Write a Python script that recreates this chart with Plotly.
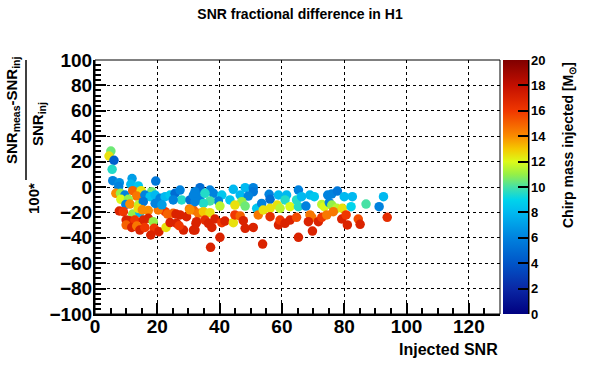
import plotly.graph_objects as go

# ---- data ----
injected_snr = [
    5.1, 4.5, 6.1, 5.5, 5.7, 7.8, 11.9, 19.5, 7.6, 11.5, 13.9, 6.7, 8.2, 9.6, 12.1, 14.8, 13.4, 8.3, 10.7, 9.9,
    11.2, 14.0, 18.2, 16.0, 17.7, 19.3, 15.5, 20.9, 22.5, 24.1, 25.7, 27.3, 27.8, 25.1, 30.5, 32.6, 33.7, 7.8, 9.1, 12.1,
    14.4, 13.9, 15.2, 17.1, 10.0, 11.0, 12.8, 15.5, 17.1, 10.0, 11.8, 13.4, 14.4, 16.0, 18.7, 19.0, 17.9, 20.5, 22.8, 22.5,
    23.3, 25.1, 26.0, 27.3, 29.4, 30.3, 24.1, 26.2, 28.4, 27.0, 31.6, 32.4, 31.6, 20.3, 19.3, 21.5,
    33.7, 32.1, 36.9, 38.0, 35.3, 31.6, 40.7, 44.4, 48.2, 50.8, 50.8, 46.6, 49.2, 43.3, 39.6, 36.9, 34.8, 32.1, 47.1, 44.9,
    48.2, 40.1, 51.9, 53.5, 55.9, 56.2, 58.9, 61.5, 61.0, 58.5, 56.2, 59.4, 62.6, 65.3, 64.7, 65.3, 30.5, 33.2, 34.8, 36.9,
    32.6, 32.1, 35.3, 36.4, 37.5, 38.5, 40.7, 41.7, 44.4, 44.9, 46.6, 47.6, 48.2, 50.8, 52.4, 54.0, 56.2, 58.9, 59.4, 61.0,
    62.6, 64.7, 40.1, 37.1, 53.8, 65.3,
    66.3, 69.0, 70.4, 74.7, 76.0, 77.8, 80.0, 82.6, 92.6, 67.7, 72.8, 73.6, 75.2, 76.0, 77.6, 79.4, 82.2, 87.0, 91.2, 69.0,
    69.6, 68.5, 71.7, 72.8, 74.4, 76.5, 79.2, 80.6, 81.0, 84.5, 85.1, 93.8, 69.8,
]
snr_frac_diff = [
    28.3, 24.4, 21.0, 13.9, 5.0, 3.4, 6.6, 4.7, 0.3, 2.1, 0.8, -5.0, -5.0, -6.3, -2.9, -2.9, -7.1, -9.7, -9.7, -13.7,
    -13.4, -14.0, -3.7, -6.3, -7.6, -6.3, -11.6, -8.9, -7.6, -6.3, -5.0, -2.4, -10.2, -10.2, -10.2, -5.0, -10.2, -18.9, -19.4, -21.3,
    -20.2, -16.8, -18.0, -18.6, -26.0, -26.5, -26.0, -26.0, -24.7, -30.0, -31.8, -30.7, -33.9, -31.8, -27.3, -32.5, -37.8, -35.2, -31.8, -19.4,
    -21.3, -20.7, -21.3, -22.0, -23.4, -17.3, -28.0, -28.6, -33.9, -30.5, -33.9, -28.6, -18.1, -18.1, -13.0, -14.0,
    -0.5, -3.7, -2.4, -5.0, -5.0, -6.3, -6.3, -1.8, -0.5, -0.5, -3.7, -6.3, -7.1, -10.2, -11.0, -11.0, -12.9, -11.6, -11.6, -14.2,
    -15.0, -15.0, -16.8, -12.9, -5.8, -9.7, -6.3, -6.3, -10.2, -14.2, -16.8, -16.8, -15.5, -15.5, -10.2, -2.4, -18.0, -20.7, -19.4, -20.2,
    -27.3, -33.9, -26.0, -28.6, -31.8, -25.2, -28.1, -26.8, -28.1, -22.0, -22.8, -26.5, -32.5, -31.8, -22.0, -18.1, -23.4, -29.9, -26.0, -28.6,
    -26.0, -23.9, -39.6, -47.5, -44.9, -39.6,
    -7.6, -6.3, -7.6, -6.3, -5.5, -3.2, -7.6, -7.6, -7.6, -15.0, -13.7, -15.5, -12.3, -14.2, -16.8, -16.8, -15.5, -13.4, -15.5, -22.0,
    -23.9, -27.3, -27.3, -23.9, -22.0, -19.4, -25.2, -22.0, -29.9, -25.2, -29.4, -23.9, -34.7,
]
chirp_mass = [
    10.5, 12.5, 4.5, 9.5, 6, 6.5, 7, 5.5, 6, 8, 8.5, 14, 11, 6, 15, 12.5, 14.5, 12, 11, 6,
    14, 11.5, 10.5, 6, 8.5, 8, 5.5, 6, 8, 8.5, 5, 6, 9.5, 6, 5, 6, 6, 17, 16, 11,
    8, 12.5, 14, 14, 17, 17, 16, 17, 17, 15, 17, 14.5, 17, 16, 11, 16, 17, 17, 12.5, 16,
    15, 15, 17, 17, 17, 14.5, 17, 17, 17, 16, 17, 17, 15, 14.5, 6, 7,
    5, 6, 6, 6, 9.5, 6, 8.5, 8, 8, 6, 5.5, 8, 6, 8.5, 6, 10, 9.5, 6, 11, 12.5,
    10.5, 11.5, 8.5, 6, 6, 5, 8, 8, 9.5, 12.5, 12.5, 11.5, 12, 9.5, 9.5, 6, 14, 14.5, 13, 12.5,
    17, 17, 16.5, 17, 17, 17, 16, 17, 12.5, 16, 15, 17, 17, 17, 14.5, 12.5, 16.5, 17, 16, 17,
    17, 15.5, 17, 17, 17, 17,
    8, 8, 8.5, 6, 6, 5.5, 8, 8, 8, 6, 11.5, 12, 6, 11, 11.5, 12.5, 9, 10, 6, 14.5,
    14.5, 17, 17, 16, 14.5, 14.5, 17, 16, 17, 15.5, 17, 16.5, 17,
]
x_ticks = [0, 20, 40, 60, 80, 100, 120]
y_ticks = [-100, -80, -60, -40, -20, 0, 20, 40, 60, 80, 100]
cbar_ticks = [0, 2, 4, 6, 8, 10, 12, 14, 16, 18, 20]

# ---- geometry helpers (pixel -> paper) ----
L, R, T, B = 95, 500, 60, 314
W, H = 596, 374
def px(x): return (x - L) / (R - L)
def py(y): return (B - y) / (B - T)

FONT = "Liberation Sans, Arial, sans-serif"
colorscale = [
    [0.00, "rgb(0,0,128)"], [0.10, "rgb(10,40,165)"], [0.20, "rgb(0,85,200)"],
    [0.30, "rgb(0,130,222)"], [0.40, "rgb(0,185,240)"], [0.45, "rgb(0,212,235)"],
    [0.50, "rgb(70,225,165)"], [0.55, "rgb(150,240,70)"], [0.60, "rgb(220,250,25)"],
    [0.65, "rgb(245,200,0)"], [0.70, "rgb(250,140,0)"], [0.80, "rgb(240,55,0)"],
    [0.90, "rgb(195,15,0)"], [1.00, "rgb(128,0,0)"],
]

fig = go.Figure(go.Scatter(
    x=injected_snr, y=snr_frac_diff, mode="markers",
    marker=dict(size=9.5, color=chirp_mass, colorscale=colorscale, cmin=0, cmax=20,
                line=dict(width=0),
                colorbar=dict(x=px(503), xanchor="left", xpad=0, ypad=0,
                              y=0.5, yanchor="middle", len=1, lenmode="fraction",
                              thickness=25, outlinewidth=0,
                              tickvals=cbar_ticks, ticks="inside", ticklen=10,
                              tickwidth=2, tickcolor="black",
                              tickfont=dict(family=FONT, size=13, color="black", weight="bold"))),
    showlegend=False,
))

axis_common = dict(
    ticks="inside", ticklen=11, tickwidth=2, tickcolor="black",
    showline=True, linewidth=2, linecolor="black", mirror=False,
    showgrid=True, gridcolor="black", gridwidth=1, griddash="dot",
    zeroline=False,
    tickfont=dict(family=FONT, size=19, color="black", weight="bold"),
)
fig.update_xaxes(range=[0, 130], tickvals=x_ticks, ticklabelstandoff=-6,
                 minor=dict(dtick=5, tick0=0, ticks="inside", ticklen=6, tickwidth=2,
                            tickcolor="black", showgrid=False),
                 **axis_common)
fig.update_yaxes(range=[-100, 100], tickvals=y_ticks, ticklabelstandoff=-3,
                 minor=dict(dtick=4, tick0=0, ticks="inside", ticklen=6, tickwidth=2,
                            tickcolor="black", showgrid=False),
                 **axis_common)

shapes = [
    dict(type="rect", xref="paper", yref="paper", x0=0, x1=1, y0=0, y1=1,
         line=dict(color="black", width=1)),
    dict(type="line", xref="paper", yref="paper", x0=px(528.5), x1=px(528.5),
         y0=py(T), y1=py(B), line=dict(color="black", width=2)),
    dict(type="line", xref="paper", yref="paper", x0=px(26), x1=px(26),
         y0=py(60), y1=py(180), line=dict(color="black", width=1.5)),
]

ann = [
    dict(text="Injected SNR", x=1.0, xanchor="right", y=py(349), yanchor="middle",
         font=dict(size=16, weight="bold")),
    dict(text="Chirp mass injected [M<sub>⊙</sub>]", x=px(569), xanchor="center",
         y=py(T), yanchor="top", textangle=-90, font=dict(size=14, weight="bold")),
    dict(text="SNR<sub>meas</sub>-SNR<sub>inj</sub>", x=px(12), xanchor="center",
         y=py(110), yanchor="middle", textangle=-90, font=dict(size=15, weight="bold")),
    dict(text="SNR<sub>inj</sub>", x=px(38), xanchor="center",
         y=py(124), yanchor="middle", textangle=-90, font=dict(size=15, weight="bold")),
    dict(text="100*", x=px(33), xanchor="center",
         y=py(199), yanchor="middle", textangle=-90, font=dict(size=15, weight="bold")),
]
for a in ann:
    a.update(xref="paper", yref="paper", showarrow=False)
    a["font"].update(family=FONT, color="black")

fig.update_layout(
    width=W, height=H,
    margin=dict(l=L, r=W - R, t=T, b=H - B, pad=0),
    paper_bgcolor="white", plot_bgcolor="white",
    title=dict(text="SNR fractional difference in H1", x=300 / W, xanchor="center",
               y=1 - 14 / H, yanchor="middle",
               font=dict(family=FONT, size=14, color="black", weight="bold")),
    shapes=shapes, annotations=ann,
)

fig.write_html("out.html", config={"displayModeBar": False},
               post_script="document.body.style.margin='0px';")
